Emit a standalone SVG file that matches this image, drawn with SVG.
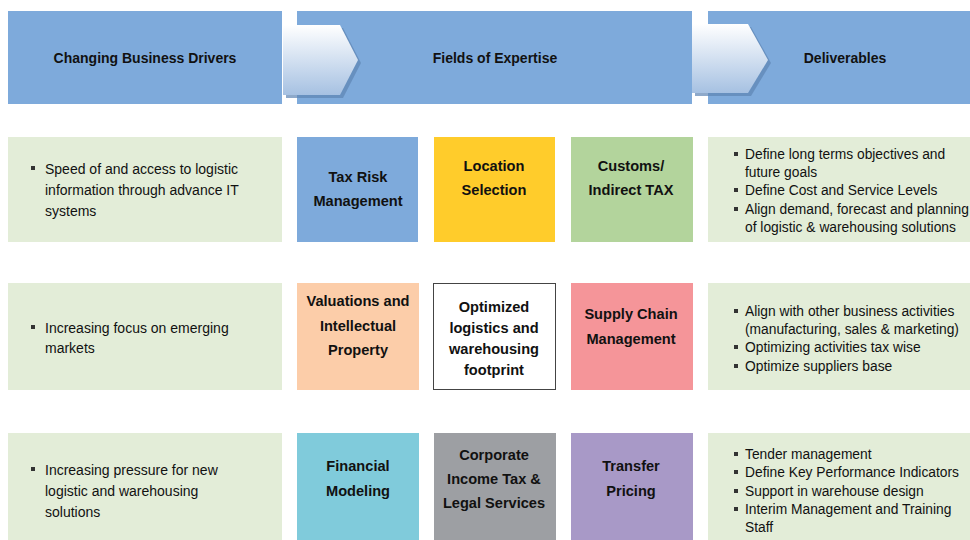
<svg xmlns="http://www.w3.org/2000/svg" width="970" height="540" viewBox="0 0 970 540">
<defs>
<linearGradient id="chev" x1="0" y1="0" x2="0" y2="1">
<stop offset="0" stop-color="#ffffff"/>
<stop offset="1" stop-color="#a6c1e2"/>
</linearGradient>
<style>
.hdr{fill:#7eaadb}
.grn{fill:#e3edd8}
text{font-family:"Liberation Sans",Arial,sans-serif;fill:#111}
.h{font-size:14px;font-weight:bold;text-anchor:middle}
.n{font-size:14.6px;font-weight:bold;text-anchor:middle}
.b{font-size:14px}
.r{font-size:13.8px}
.sq{fill:#333}
</style>
</defs>
<rect width="970" height="540" fill="#ffffff"/>
<g id="header-drivers"><rect class="hdr" x="8" y="11" width="274" height="93"/><text class="h" x="145" y="63">Changing Business Drivers</text></g>
<g id="header-expertise"><rect class="hdr" x="297" y="11" width="395" height="93"/><text class="h" x="495" y="63">Fields of Expertise</text></g>
<g id="header-deliverables"><rect class="hdr" x="708" y="11" width="262" height="93"/><text class="h" x="845" y="63">Deliverables</text></g>
<g id="connectors">
<polygon points="286,28 343,28 361,63 343,98 286,98" fill="#5e84b3" opacity="0.7"/>
<polygon points="283,25 340,25 358,60 340,95 283,95" fill="url(#chev)"/>
<polygon points="695,27 751,27 771,63 751,96 695,96" fill="#5e84b3" opacity="0.7"/>
<polygon points="692,24 748,24 768,60 748,93 692,93" fill="url(#chev)"/>
</g>
<g id="driver-1"><rect class="grn" x="8" y="137" width="274" height="105"/><rect class="sq" x="31" y="166" width="4" height="4"/>
<text class="b" x="45" y="174">Speed of and access to logistic</text><text class="b" x="45" y="195">information through advance IT</text><text class="b" x="45" y="216">systems</text></g>
<g id="driver-2"><rect class="grn" x="8" y="283" width="274" height="107"/><rect class="sq" x="31" y="325" width="4" height="4"/>
<text class="b" x="45" y="333">Increasing focus on emerging</text><text class="b" x="45" y="353">markets</text></g>
<g id="driver-3"><rect class="grn" x="8" y="433" width="274" height="107"/><rect class="sq" x="31" y="467" width="4" height="4"/>
<text class="b" x="45" y="475">Increasing pressure for new</text><text class="b" x="45" y="496">logistic and warehousing</text><text class="b" x="45" y="517">solutions</text></g>
<g id="tax-risk"><rect x="297" y="137" width="121" height="105" fill="#7eaadb"/><text class="n" x="358" y="182">Tax Risk</text><text class="n" x="358" y="206">Management</text></g>
<g id="location"><rect x="434" y="137" width="121" height="105" fill="#ffcc2b"/><text class="n" x="494" y="171">Location</text><text class="n" x="494" y="195">Selection</text></g>
<g id="customs"><rect x="571" y="137" width="122" height="105" fill="#b3d49c"/><text class="n" x="631" y="171">Customs/</text><text class="n" x="631" y="195">Indirect TAX</text></g>
<g id="valuations"><rect x="297" y="283" width="122" height="107" fill="#fccda9"/><text class="n" x="358" y="306">Valuations and</text><text class="n" x="358" y="331">Intellectual</text><text class="n" x="358" y="355">Property</text></g>
<g id="optimized"><rect x="433.5" y="283.5" width="122" height="106" fill="#ffffff" stroke="#444" stroke-width="1"/><text class="n" x="494" y="312">Optimized</text><text class="n" x="494" y="333">logistics and</text><text class="n" x="494" y="354">warehousing</text><text class="n" x="494" y="375">footprint</text></g>
<g id="supply-chain"><rect x="571" y="283" width="122" height="107" fill="#f59599"/><text class="n" x="631" y="319">Supply Chain</text><text class="n" x="631" y="344">Management</text></g>
<g id="financial"><rect x="297" y="433" width="122" height="107" fill="#80cbdb"/><text class="n" x="358" y="471">Financial</text><text class="n" x="358" y="496">Modeling</text></g>
<g id="corporate"><rect x="434" y="433" width="122" height="107" fill="#9d9fa3"/><text class="n" x="494" y="460">Corporate</text><text class="n" x="494" y="484">Income Tax &amp;</text><text class="n" x="494" y="508">Legal Services</text></g>
<g id="transfer"><rect x="571" y="433" width="122" height="107" fill="#a899c7"/><text class="n" x="631" y="471">Transfer</text><text class="n" x="631" y="496">Pricing</text></g>
<g id="deliverable-1"><rect class="grn" x="708" y="137" width="262" height="105"/>
<rect class="sq" x="734" y="152" width="4" height="4"/><rect class="sq" x="734" y="188" width="4" height="4"/><rect class="sq" x="734" y="207" width="4" height="4"/>
<text class="r" x="745" y="159">Define long terms objectives and</text><text class="r" x="745" y="177">future goals</text><text class="r" x="745" y="195">Define Cost and Service Levels</text><text class="r" x="745" y="214">Align demand, forecast and planning</text><text class="r" x="745" y="232">of logistic &amp; warehousing solutions</text></g>
<g id="deliverable-2"><rect class="grn" x="708" y="283" width="262" height="107"/>
<rect class="sq" x="734" y="309" width="4" height="4"/><rect class="sq" x="734" y="345" width="4" height="4"/><rect class="sq" x="734" y="364" width="4" height="4"/>
<text class="r" x="745" y="316">Align with other business activities</text><text class="r" x="745" y="334">(manufacturing, sales &amp; marketing)</text><text class="r" x="745" y="352">Optimizing activities tax wise</text><text class="r" x="745" y="371">Optimize suppliers base</text></g>
<g id="deliverable-3"><rect class="grn" x="708" y="433" width="262" height="107"/>
<rect class="sq" x="734" y="452" width="4" height="4"/><rect class="sq" x="734" y="470" width="4" height="4"/><rect class="sq" x="734" y="489" width="4" height="4"/><rect class="sq" x="734" y="507" width="4" height="4"/>
<text class="r" x="745" y="459">Tender management</text><text class="r" x="745" y="477">Define Key Performance Indicators</text><text class="r" x="745" y="496">Support in warehouse design</text><text class="r" x="745" y="514">Interim Management and Training</text><text class="r" x="745" y="532">Staff</text></g>
</svg>
